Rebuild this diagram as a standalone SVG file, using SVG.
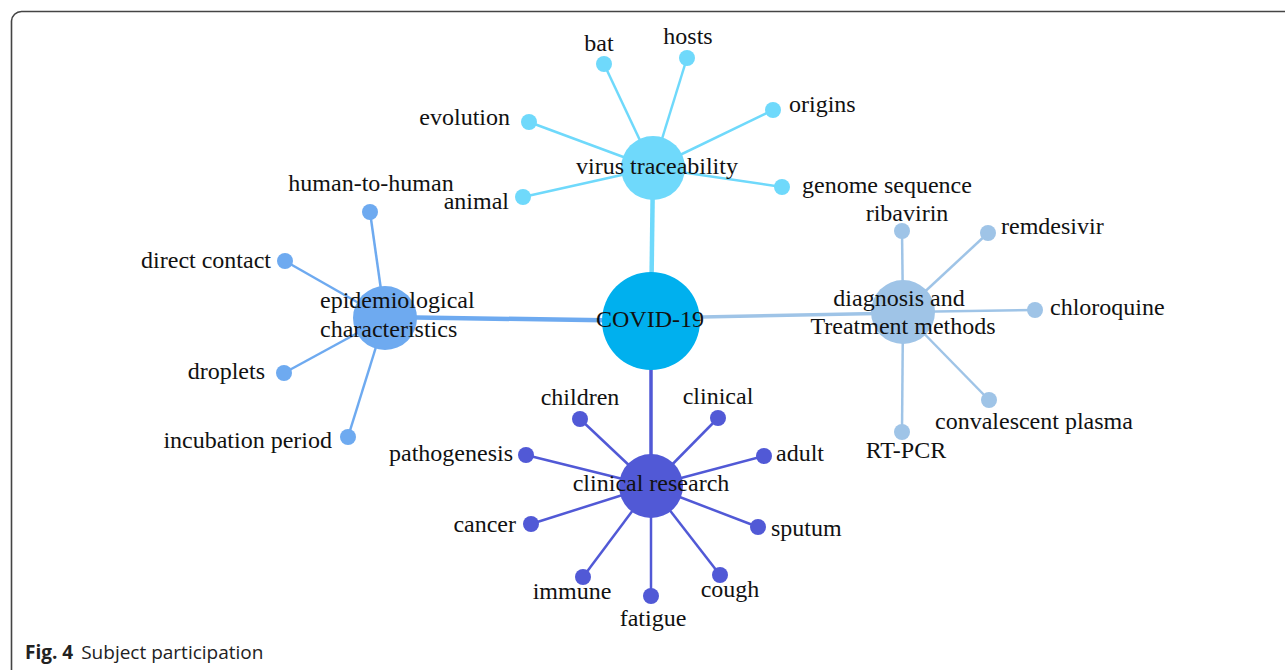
<svg xmlns="http://www.w3.org/2000/svg" width="1285" height="670" viewBox="0 0 1285 670">
<style>
.lab text{font-family:"Liberation Serif","Times New Roman",serif;font-size:24px;fill:#111}
.cap{font-family:"Open Sans","Noto Sans",sans-serif;font-size:19px;fill:#222}
.vt{fill:#6fd9fb}.vl{stroke:#6fd9fb}
.ep{fill:#6eaaf0}.el{stroke:#6eaaf0}
.dg{fill:#9fc4e7}.dl{stroke:#9fc4e7}
.cr{fill:#5159d6}.cl{stroke:#5159d6}
.leaf line{stroke-width:2.5}
.e{text-anchor:end}.m{text-anchor:middle}
</style>
<path d="M11.5 670 V21 A10 10 0 0 1 21.5 11.5 H1285" fill="none" stroke="#444" stroke-width="1.6"/>
<g id="connectors" class="leaf">
<line x1="651" y1="321" x2="653" y2="168" class="vl" style="stroke-width:4.5"/>
<line x1="651" y1="321" x2="385" y2="317" class="el" style="stroke-width:4.5"/>
<line x1="651" y1="318" x2="903" y2="313" class="dl" style="stroke-width:3.5"/>
<line x1="651" y1="321" x2="651" y2="486" class="cl" style="stroke-width:3.5"/>
<g class="vl">
<line x1="653" y1="168" x2="604" y2="64"/>
<line x1="653" y1="168" x2="687" y2="58"/>
<line x1="653" y1="168" x2="773" y2="110"/>
<line x1="653" y1="168" x2="529" y2="122"/>
<line x1="653" y1="168" x2="523" y2="197"/>
<line x1="653" y1="168" x2="782" y2="187"/>
</g>
<g class="el">
<line x1="385" y1="318" x2="370" y2="212"/>
<line x1="385" y1="318" x2="285" y2="261"/>
<line x1="385" y1="318" x2="284" y2="373"/>
<line x1="385" y1="318" x2="348" y2="437"/>
</g>
<g class="dl">
<line x1="903" y1="312" x2="902" y2="231"/>
<line x1="903" y1="312" x2="988" y2="233"/>
<line x1="903" y1="312" x2="1035" y2="310"/>
<line x1="903" y1="312" x2="989" y2="400"/>
<line x1="903" y1="312" x2="902" y2="432"/>
</g>
<g class="cl">
<line x1="651" y1="486" x2="580" y2="419"/>
<line x1="651" y1="486" x2="718" y2="418"/>
<line x1="651" y1="486" x2="526" y2="455"/>
<line x1="651" y1="486" x2="764" y2="456"/>
<line x1="651" y1="486" x2="531" y2="524"/>
<line x1="651" y1="486" x2="758" y2="527"/>
<line x1="651" y1="486" x2="583" y2="577"/>
<line x1="651" y1="486" x2="651" y2="596"/>
<line x1="651" y1="486" x2="720" y2="575"/>
</g>
</g>
<g class="lab">
<g id="n-bat"><circle cx="604" cy="64" r="8" class="vt"/><text x="599" y="51" class="m">bat</text></g>
<g id="n-hosts"><circle cx="687" cy="58" r="8" class="vt"/><text x="688" y="44" class="m">hosts</text></g>
<g id="n-origins"><circle cx="773" cy="110" r="8" class="vt"/><text x="789" y="112">origins</text></g>
<g id="n-evolution"><circle cx="529" cy="122" r="8" class="vt"/><text x="510" y="125" class="e">evolution</text></g>
<g id="n-animal"><circle cx="523" cy="197" r="8" class="vt"/><text x="509" y="209" class="e">animal</text></g>
<g id="n-genome"><circle cx="782" cy="187" r="8" class="vt"/><text x="802" y="193">genome sequence</text></g>
<g id="n-h2h"><circle cx="370" cy="212" r="8" class="ep"/><text x="371" y="191" class="m">human-to-human</text></g>
<g id="n-direct"><circle cx="285" cy="261" r="8" class="ep"/><text x="271" y="268" class="e">direct contact</text></g>
<g id="n-droplets"><circle cx="284" cy="373" r="8" class="ep"/><text x="265" y="379" class="e">droplets</text></g>
<g id="n-incubation"><circle cx="348" cy="437" r="8" class="ep"/><text x="332" y="448" class="e">incubation period</text></g>
<g id="n-ribavirin"><circle cx="902" cy="231" r="8" class="dg"/><text x="907" y="221" class="m">ribavirin</text></g>
<g id="n-remdesivir"><circle cx="988" cy="233" r="8" class="dg"/><text x="1001" y="234">remdesivir</text></g>
<g id="n-chloroquine"><circle cx="1035" cy="310" r="8" class="dg"/><text x="1050" y="315">chloroquine</text></g>
<g id="n-plasma"><circle cx="989" cy="400" r="8" class="dg"/><text x="935" y="429">convalescent plasma</text></g>
<g id="n-rtpcr"><circle cx="902" cy="432" r="8" class="dg"/><text x="906" y="458" class="m">RT-PCR</text></g>
<g id="n-children"><circle cx="580" cy="419" r="8" class="cr"/><text x="580" y="405" class="m">children</text></g>
<g id="n-clinical"><circle cx="718" cy="418" r="8" class="cr"/><text x="718" y="404" class="m">clinical</text></g>
<g id="n-pathogenesis"><circle cx="526" cy="455" r="8" class="cr"/><text x="513" y="461" class="e">pathogenesis</text></g>
<g id="n-adult"><circle cx="764" cy="456" r="8" class="cr"/><text x="776" y="461">adult</text></g>
<g id="n-cancer"><circle cx="531" cy="524" r="8" class="cr"/><text x="516" y="532" class="e">cancer</text></g>
<g id="n-sputum"><circle cx="758" cy="527" r="8" class="cr"/><text x="771" y="536">sputum</text></g>
<g id="n-immune"><circle cx="583" cy="577" r="8" class="cr"/><text x="572" y="599" class="m">immune</text></g>
<g id="n-fatigue"><circle cx="651" cy="596" r="8" class="cr"/><text x="653" y="626" class="m">fatigue</text></g>
<g id="n-cough"><circle cx="720" cy="575" r="8" class="cr"/><text x="730" y="597" class="m">cough</text></g>
<g id="n-virus"><circle cx="653" cy="168" r="32" class="vt"/><text x="657" y="174" class="m">virus traceability</text></g>
<g id="n-epi"><circle cx="385" cy="318" r="32" class="ep"/><text x="320" y="308">epidemiological</text><text x="320" y="337">characteristics</text></g>
<g id="n-diag"><circle cx="903" cy="312" r="32" class="dg"/><text x="899" y="306" class="m">diagnosis and</text><text x="903" y="334" class="m">Treatment methods</text></g>
<g id="n-clinres"><circle cx="651" cy="486" r="32" class="cr"/><text x="651" y="491" class="m">clinical research</text></g>
<g id="n-covid"><circle cx="651" cy="321" r="49" fill="#00b0ee"/><text x="650" y="327" class="m">COVID-19</text></g>
</g>
<text x="25" y="659" class="cap"><tspan font-weight="bold">Fig. 4</tspan><tspan dx="8">Subject participation</tspan></text>
</svg>
